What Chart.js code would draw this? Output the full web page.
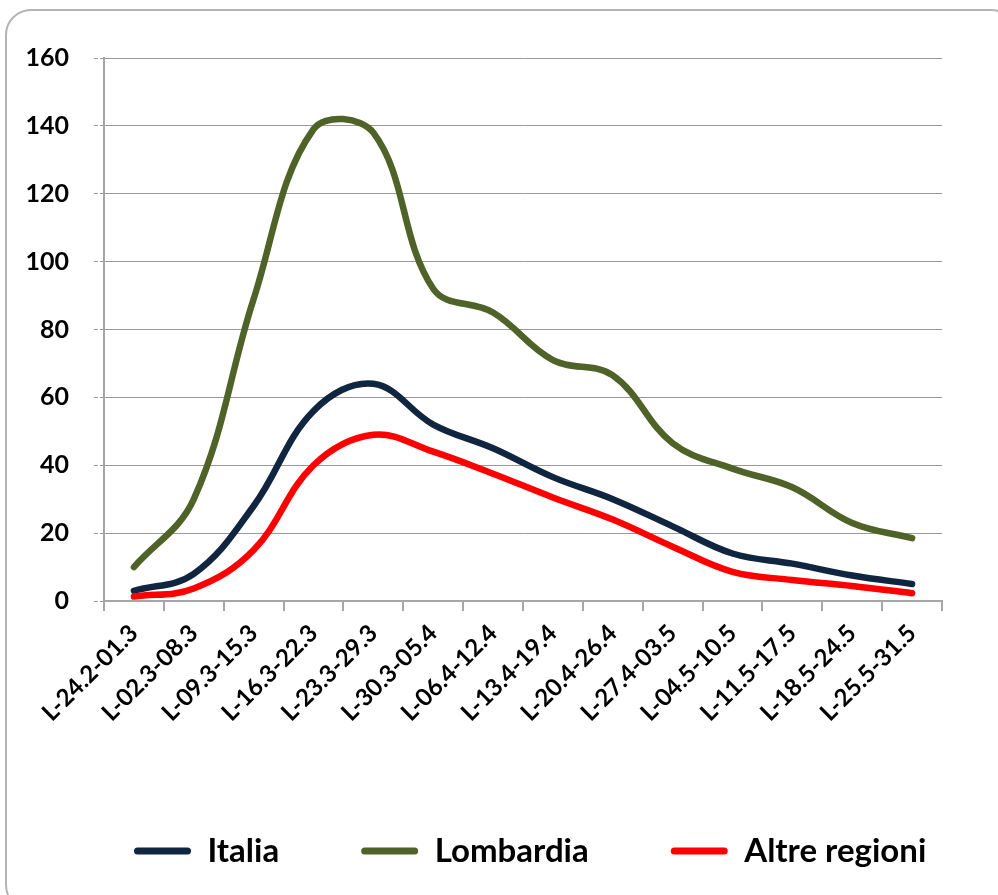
<!DOCTYPE html>
<html>
<head>
<meta charset="UTF-8">
<title>Italia - Lombardia - Altre regioni</title>
<style>
  body { margin: 0; background: #fff; }
  #wrap { position: relative; width: 998px; height: 895px; overflow: hidden; }
  #frame { position: absolute; left: 5px; top: 9px; width: 1012px; height: 902px; border: 2px solid #b4b4b4; border-radius: 26px; box-sizing: border-box; }
  #box { position: absolute; left: 0; top: 0; width: 998px; height: 895px; }
</style>
</head>
<body>
<div id="wrap">
  <div id="frame"></div>
  <div id="box"><canvas id="myChart"></canvas></div>
</div>
<script src="https://cdn.jsdelivr.net/npm/chart.js@4/dist/chart.umd.min.js"></script>
<script>
// weekly values
var weeks = ['L-24.2-01.3', 'L-02.3-08.3', 'L-09.3-15.3', 'L-16.3-22.3', 'L-23.3-29.3', 'L-30.3-05.4', 'L-06.4-12.4',
             'L-13.4-19.4', 'L-20.4-26.4', 'L-27.4-03.5', 'L-04.5-10.5', 'L-11.5-17.5', 'L-18.5-24.5', 'L-25.5-31.5']
var italia = [3, 8, 28, 56, 64, 52, 45, 36.5, 30, 22, 14, 11, 7.5, 5]
var lombardia = [10, 30, 89, 139, 138, 92, 85, 71, 66.5, 46.5, 39, 33.5, 23, 18.5]
var altre = [1.3, 3.7, 15, 40, 49, 44, 37.5, 30.5, 24, 16, 8.6, 6.2, 4.4, 2.3]
var yTicks = [0, 20, 40, 60, 80, 100, 120, 140, 160]

Chart.defaults.font.family = 'Lato'
Chart.defaults.font.weight = 'bold'
Chart.defaults.color = '#000'

var PLOT_BOTTOM = 601
var LEG_PAD = 82
var LEG_FONT = 33

// put the legend row where it sits in the original
var legendPos = {
    id: 'legendPos',
    beforeDraw: function(chart) {
        var lg = chart.legend
        if (!lg || !lg.lineWidths) return
        var startX = (lg.left + LEG_PAD + lg.right - lg.lineWidths[0]) / 2
        var dx = 134 - startX
        lg.left += dx
        lg.right += dx
        var dy = (851 - LEG_FONT / 2) - (lg.top + LEG_PAD)
        lg.top += dy
        lg.bottom += dy
    }
}

var ctx = document.getElementById('myChart').getContext('2d')
var chart = new Chart(ctx, {
    type: 'line',
    data: {
        labels: weeks,
        datasets: [
            { label: 'Italia', data: italia, borderColor: '#10253f', backgroundColor: '#10253f', order: 1 },
            { label: 'Lombardia', data: lombardia, borderColor: '#4f6228', backgroundColor: '#4f6228', order: 2 },
            { label: 'Altre regioni', data: altre, borderColor: '#ff0000', backgroundColor: '#ff0000', order: 0 }
        ]
    },
    options: {
        responsive: true,
        maintainAspectRatio: false,
        animation: false,
        layout: { padding: { top: 58, right: 0, left: 0, bottom: 0 } },
        elements: {
            line: { borderWidth: 6.5, tension: 0.38, fill: false, borderCapStyle: 'round', borderJoinStyle: 'round' },
            point: { radius: 0 }
        },
        plugins: {
            tooltip: { enabled: false },
            legend: {
                position: 'bottom',
                labels: {
                    font: { size: LEG_FONT, weight: 'bold' },
                    boxWidth: 57,
                    boxHeight: 7,
                    padding: LEG_PAD,
                    useBorderRadius: true,
                    borderRadius: 3.5,
                    sort: function(a, b) { return a.datasetIndex - b.datasetIndex },
                    generateLabels: function(c) {
                        var items = Chart.defaults.plugins.legend.labels.generateLabels(c)
                        items.forEach(function(it) { it.lineWidth = 0 })
                        return items
                    }
                }
            }
        },
        scales: {
            x: {
                offset: true,
                grid: { offset: true, drawOnChartArea: false, color: '#a6a6a6', lineWidth: 2, tickLength: 10 },
                border: { color: '#a6a6a6', width: 2 },
                ticks: { autoSkip: false, minRotation: 45, maxRotation: 45, padding: 8, font: { size: 24, weight: 'bold' } },
                afterFit: function(s) {
                    var lh = s.chart.legend ? s.chart.legend.height : 0
                    s.height = s.chart.height - lh - PLOT_BOTTOM
                }
            },
            y: {
                min: 0,
                max: 160,
                afterBuildTicks: function(s) { s.ticks = yTicks.map(function(v) { return { value: v } }) },
                grid: { color: '#999', lineWidth: 1, borderDash: [4, 2], tickBorderDash: [4, 2], tickLength: 10 },
                border: { color: '#a6a6a6', width: 2 },
                ticks: { padding: 25, font: { size: 25, weight: 'bold' } },
                afterFit: function(s) { s.width = 104 }
            },
            // empty strip on the right, keeps the plot at the original width
            spacer: {
                type: 'linear',
                position: 'right',
                grid: { display: false },
                border: { display: false },
                ticks: { display: false },
                afterFit: function(s) { s.width = 56 }
            }
        }
    },
    plugins: [legendPos]
})
</script>
</body>
</html>
